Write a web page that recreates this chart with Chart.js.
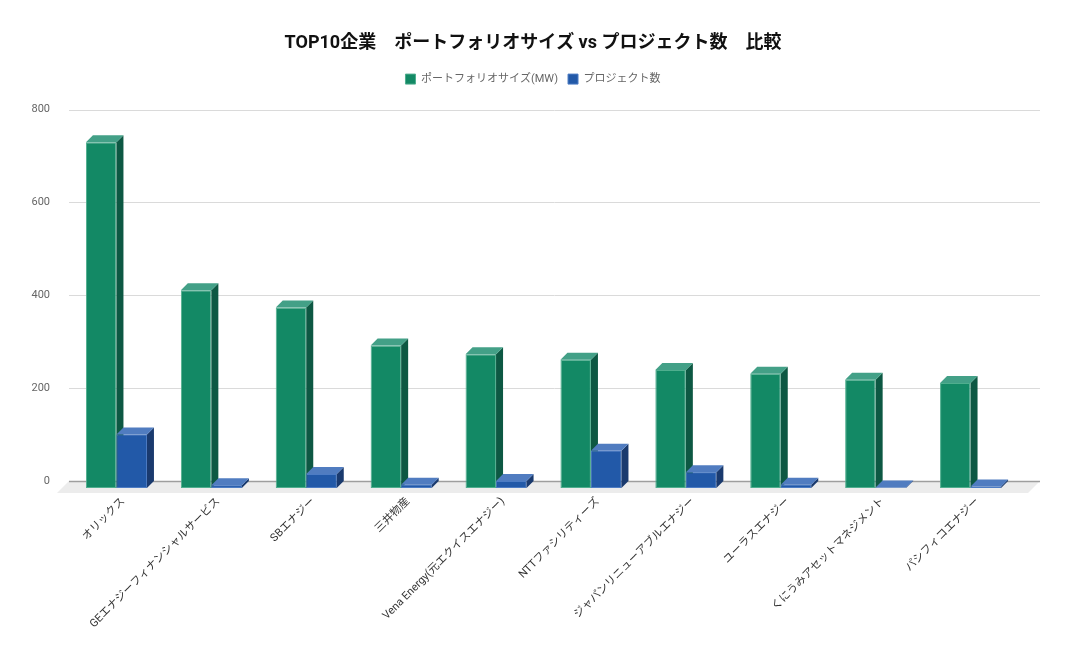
<!DOCTYPE html>
<html>
<head>
<meta charset="utf-8">
<script src="https://cdn.jsdelivr.net/npm/chart.js@4.4.1/dist/chart.umd.min.js"></script>
<style>
  body { margin: 0; background: #fff; }
  canvas { display: block; }
</style>
</head>
<body>
<canvas id="chart" width="1066" height="659"></canvas>
<script>
// DATA
const companies = [
  'オリックス', 'GEエナジーフィナンシャルサービス', 'SBエナジー', '三井物産',
  'Vena Energy(元エクイスエナジー)', 'NTTファシリティーズ', 'ジャパンリニューアブルエナジー',
  'ユーラスエナジー', 'くにうみアセットマネジメント', 'パシフィコエナジー'
];
const portfolioMW = [745, 426, 389, 307, 288, 276, 254, 246, 233, 226];
const projectCount = [115, 6, 30, 7, 15, 80, 34, 7, 1, 3];
const yTicks = [0, 200, 400, 600, 800];

const FONT = 'Roboto, "Noto Sans CJK JP", sans-serif';
const DEPTH = 7; // 3D offset of the bar fronts

// face colours per dataset: [front, top, side]
const faces = [
  ['#138965', '#43a087', '#0d5843'],
  ['#2259a8', '#507cc0', '#1a3a6e']
];

function drawFaces(ctx, meta, idx) {
  const [, top, side] = faces[idx];
  meta.data.forEach(bar => {
    const l = bar.x - bar.width / 2, r = bar.x + bar.width / 2;
    const t = bar.y, b = bar.base;
    ctx.fillStyle = side;
    ctx.beginPath();
    ctx.moveTo(r, t); ctx.lineTo(r + DEPTH, t - DEPTH);
    ctx.lineTo(r + DEPTH, b - DEPTH); ctx.lineTo(r, b);
    ctx.closePath(); ctx.fill();
    ctx.fillStyle = top;
    ctx.beginPath();
    ctx.moveTo(l, t); ctx.lineTo(l + DEPTH, t - DEPTH);
    ctx.lineTo(r + DEPTH, t - DEPTH); ctx.lineTo(r, t);
    ctx.closePath(); ctx.fill();
  });
}

// floor + gridlines on the back plane, bars shifted to the front plane
const threeD = {
  id: 'threeD',
  beforeInit(chart) {
    const fit = chart.legend.fit;
    chart.legend.fit = function () {
      fit.call(this);
      this.height += 15;
    };
  },
  beforeDatasetsDraw(chart) {
    const { ctx, chartArea: a, scales: { y } } = chart;
    const y0 = y.getPixelForValue(0);
    ctx.save();
    ctx.fillStyle = '#ececec';
    ctx.beginPath();
    ctx.moveTo(a.left - 7, y0);
    ctx.lineTo(a.right + 15, y0);
    ctx.lineTo(a.right + 3, y0 + 12);
    ctx.lineTo(a.left - 19, y0 + 12);
    ctx.closePath();
    ctx.fill();
    y.ticks.forEach(t => {
      const py = Math.round(y.getPixelForValue(t.value)) + 0.5;
      ctx.strokeStyle = t.value === 0 ? '#9e9e9e' : '#dadada';
      ctx.lineWidth = t.value === 0 ? 1.5 : 1;
      ctx.beginPath();
      ctx.moveTo(a.left - 7, py);
      ctx.lineTo(a.right + 15, py);
      ctx.stroke();
    });
    ctx.restore();
    ctx.save();
    ctx.translate(-DEPTH, DEPTH);
  },
  afterDatasetsDraw(chart) {
    const ctx = chart.ctx;
    const green = chart.getDatasetMeta(0), blue = chart.getDatasetMeta(1);
    drawFaces(ctx, green, 0);
    // blue fronts sit in front of the green side faces
    blue.data.forEach(bar => bar.draw(ctx));
    drawFaces(ctx, blue, 1);
    ctx.restore();
  }
};

new Chart(document.getElementById('chart'), {
  type: 'bar',
  data: {
    labels: companies,
    datasets: [{
      label: 'ポートフォリオサイズ(MW)',
      data: portfolioMW,
      backgroundColor: faces[0][0],
      borderColor: '#4fae8e',
      borderWidth: 1,
      borderSkipped: false,
      categoryPercentage: 0.643,
      barPercentage: 1,
      clip: false
    }, {
      label: 'プロジェクト数',
      data: projectCount,
      backgroundColor: faces[1][0],
      borderColor: '#4d7cc4',
      borderWidth: 1,
      borderSkipped: false,
      categoryPercentage: 0.643,
      barPercentage: 1,
      clip: false
    }]
  },
  options: {
    responsive: false,
    animation: false,
    layout: { padding: 0 },
    plugins: {
      title: {
        display: true,
        text: 'TOP10企業　ポートフォリオサイズ vs プロジェクト数　比較',
        color: '#111',
        font: { family: FONT, size: 18, weight: 'bold' },
        padding: { top: 33, bottom: 9 }
      },
      legend: {
        labels: {
          boxWidth: 10, boxHeight: 10, padding: 10,
          color: '#666',
          font: { family: FONT, size: 11 }
        }
      },
      tooltip: { enabled: false }
    },
    scales: {
      x: {
        grid: { display: false },
        border: { display: false },
        ticks: {
          minRotation: 45, maxRotation: 45, padding: 6,
          color: '#333',
          font: { family: FONT, size: 11 }
        },
        afterFit(scale) { scale.height = 178; }
      },
      y: {
        min: 0, max: 800,
        afterBuildTicks(scale) { scale.ticks = yTicks.map(v => ({ value: v })); },
        grid: { display: false, drawTicks: false },
        border: { display: false },
        ticks: {
          padding: 26, color: '#666',
          font: { family: FONT, size: 11 }
        },
        afterFit(scale) { scale.width = 76; }
      },
      // empty right-hand strip so the plot ends where the reference does
      yRight: {
        position: 'right',
        min: 0, max: 800,
        grid: { display: false, drawTicks: false },
        border: { display: false },
        ticks: { display: false },
        afterFit(scale) { scale.width = 41; }
      }
    }
  },
  plugins: [threeD]
});
</script>
</body>
</html>
